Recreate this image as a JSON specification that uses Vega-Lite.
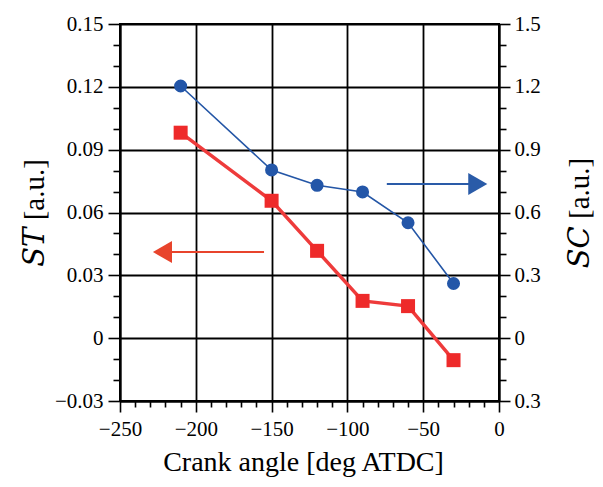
{
  "$schema": "https://vega.github.io/schema/vega-lite/v6.json",
  "width": 379,
  "height": 377,
  "autosize": "none",
  "padding": {"left": 120, "top": 24, "right": 104, "bottom": 86},
  "background": "white",
  "config": {
    "font": "Liberation Serif",
    "view": {"stroke": "black", "strokeWidth": 2},
    "axis": {
      "domainColor": "black",
      "domainWidth": 2,
      "tickColor": "black",
      "tickWidth": 1.6,
      "gridColor": "black",
      "gridWidth": 1.8,
      "labelFont": "Liberation Serif, serif",
      "labelFontSize": 21,
      "labelColor": "black",
      "labelOverlap": false,
      "labelFlush": false,
      "titleFont": "'Liberation Serif', 'DejaVu Serif', serif",
      "titleFontSize": 29,
      "titleFontWeight": "normal",
      "titleColor": "black"
    }
  },
  "datasets": {
    "st": [
      {"angle": -210, "st": 0.0981},
      {"angle": -150, "st": 0.0656},
      {"angle": -120, "st": 0.0417},
      {"angle": -90, "st": 0.0178},
      {"angle": -60, "st": 0.0153},
      {"angle": -30, "st": -0.0105}
    ],
    "sc": [
      {"angle": -210, "sc": 1.204},
      {"angle": -150, "sc": 0.803},
      {"angle": -120, "sc": 0.730},
      {"angle": -90, "sc": 0.698},
      {"angle": -60, "sc": 0.551},
      {"angle": -30, "sc": 0.261}
    ],
    "one": [{"k": 1}]
  },
  "layer": [
    {
      "layer": [
        {
          "data": {"name": "one"},
          "mark": {"type": "rule", "color": "#e8442c", "strokeWidth": 2},
          "encoding": {
            "x": {"datum": -155, "type": "quantitative"},
            "x2": {"datum": -221},
            "y": {"datum": 0.0411, "type": "quantitative"}
          }
        },
        {
          "data": {"name": "one"},
          "mark": {"type": "point", "shape": "triangle-left", "filled": true, "color": "#e8442c", "size": 484, "opacity": 1},
          "encoding": {
            "x": {"datum": -222, "type": "quantitative"},
            "y": {"datum": 0.0411, "type": "quantitative"}
          }
        },
        {
          "data": {"name": "st"},
          "mark": {"type": "line", "color": "#ee3b3b", "strokeWidth": 3.5},
          "encoding": {
            "x": {
              "field": "angle",
              "type": "quantitative",
              "scale": {"domain": [-250, 0], "nice": false},
              "axis": {
                "values": [-250, -240, -230, -220, -210, -200, -190, -180, -170, -160, -150, -140, -130, -120, -110, -100, -90, -80, -70, -60, -50, -40, -30, -20, -10, 0],
                "tickCount": 100,
                "labelExpr": "datum.value % 50 == 0 ? replace(format(datum.value, 'd'), '-', '−') : ''",
                "grid": true,
                "labelOverlap": false,
                "labelFont": "Liberation Serif, serif",
                "labelFontSize": 21,
                "tickSize": {"condition": {"test": "datum.value % 50 == 0", "value": 11}, "value": 6},
                "gridOpacity": {"condition": {"test": "datum.value % 50 == 0", "value": 1}, "value": 0},
                "labelPadding": 6,
                "title": "Crank angle [deg ATDC]",
                "titleFontSize": 28,
                "titleX": 183,
                "titlePadding": 9
              }
            },
            "y": {
              "field": "st",
              "type": "quantitative",
              "scale": {"domain": [-0.03, 0.15], "nice": false, "zero": false},
              "axis": {
                "orient": "left",
                "grid": true,
                "labelOverlap": false,
                "labelFont": "Liberation Serif, serif",
                "labelFontSize": 21,
                "tickCount": 100,
                "values": [-0.03, -0.02, -0.01, 0, 0.01, 0.02, 0.03, 0.04, 0.05, 0.06, 0.07, 0.08, 0.09, 0.1, 0.11, 0.12, 0.13, 0.14, 0.15],
                "labelExpr": "round(datum.value*100) % 3 == 0 ? replace(format(datum.value, '.2~f'), '-', '−') : ''",
                "tickSize": {"condition": {"test": "round(datum.value*100) % 3 == 0", "value": 12}, "value": 7},
                "gridOpacity": {"condition": {"test": "round(datum.value*100) % 3 == 0", "value": 1}, "value": 0},
                "labelPadding": 5,
                "title": "𝑆𝑇 [a.u.]",
                "titlePadding": 5
              }
            }
          }
        },
        {
          "data": {"name": "st"},
          "mark": {"type": "point", "shape": "square", "filled": true, "color": "#ee2a2a", "size": 196, "opacity": 1},
          "encoding": {
            "x": {"field": "angle", "type": "quantitative"},
            "y": {"field": "st", "type": "quantitative"}
          }
        }
      ]
    },
    {
      "layer": [
        {
          "data": {"name": "one"},
          "mark": {"type": "rule", "color": "#2a5ba8", "strokeWidth": 2},
          "encoding": {
            "x": {"datum": -74, "type": "quantitative"},
            "x2": {"datum": -15},
            "y": {"datum": 0.736, "type": "quantitative"}
          }
        },
        {
          "data": {"name": "one"},
          "mark": {"type": "point", "shape": "triangle-right", "filled": true, "color": "#2a5ba8", "size": 484, "opacity": 1},
          "encoding": {
            "x": {"datum": -14, "type": "quantitative"},
            "y": {"datum": 0.736, "type": "quantitative"}
          }
        },
        {
          "data": {"name": "sc"},
          "mark": {"type": "line", "color": "#2456a6", "strokeWidth": 1.6},
          "encoding": {
            "x": {"field": "angle", "type": "quantitative"},
            "y": {
              "field": "sc",
              "type": "quantitative",
              "scale": {"domain": [-0.3, 1.5], "nice": false, "zero": false},
              "axis": {
                "orient": "right",
                "grid": false,
                "labelOverlap": false,
                "labelFont": "Liberation Serif, serif",
                "labelFontSize": 21,
                "tickCount": 100,
                "values": [-0.3, -0.2, -0.1, 0, 0.1, 0.2, 0.3, 0.4, 0.5, 0.6, 0.7, 0.8, 0.9, 1, 1.1, 1.2, 1.3, 1.4, 1.5],
                "labelExpr": "round(datum.value*10) % 3 == 0 ? (datum.value < 0 ? '0.3' : format(datum.value, '.1~f')) : ''",
                "tickSize": {"condition": {"test": "round(datum.value*10) % 3 == 0", "value": 11}, "value": 7},
                "labelPadding": 4,
                "title": "𝑆𝐶 [a.u.]",
                "titleAngle": 270,
                "titlePadding": 54
              }
            }
          }
        },
        {
          "data": {"name": "sc"},
          "mark": {"type": "point", "shape": "circle", "filled": true, "color": "#2356a8", "size": 170, "opacity": 1},
          "encoding": {
            "x": {"field": "angle", "type": "quantitative"},
            "y": {"field": "sc", "type": "quantitative"}
          }
        }
      ]
    }
  ],
  "resolve": {"scale": {"y": "independent"}}
}
